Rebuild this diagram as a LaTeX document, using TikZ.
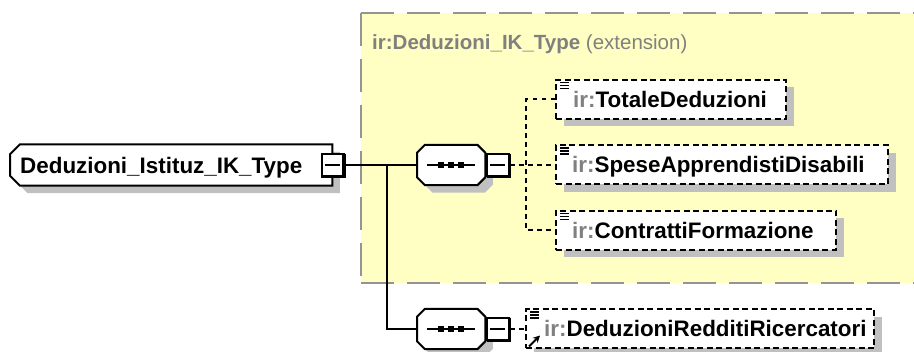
\documentclass[tikz,border=0pt]{standalone}
\usepackage{fontspec}
\setmainfont{Liberation Sans}
\usetikzlibrary{calc,shadows,arrows.meta}
\definecolor{yel}{HTML}{FFFFC4}
\definecolor{shd}{HTML}{C0C0C0}
\definecolor{pfx}{HTML}{808080}
\definecolor{bord}{HTML}{949494}
\tikzset{
  sh/.style={general shadow={fill=shd, shadow xshift=7.5pt, shadow yshift=-7.5pt}},
  outline/.style={draw=black, line width=2pt, fill=white},
  ybord/.style={draw=bord, line width=2.5pt, dash pattern=on 33pt off 13pt},
  elembox/.style={draw=black, line width=2pt, dash pattern=on 6pt off 3.5pt, fill=white, inner sep=0pt, minimum height=39pt, anchor=west, sh},
  elemtext/.style={anchor=base west, inner sep=0pt, font=\fontsize{22.4}{27}\selectfont\bfseries},
  lbltext/.style={anchor=base west, inner sep=0pt, text=pfx, font=\fontsize{20.5}{25}\selectfont},
  conn/.style={line width=2pt, draw=black},
  dconn/.style={line width=2pt, draw=black, dash pattern=on 4.5pt off 4.5pt},
  minusbox/.style={draw=black, line width=2pt, fill=white, inner sep=0pt, minimum width=22pt, minimum height=22pt},
  anchorbox/.style={anchor=west, inner sep=0pt},
}
\newcommand\minusdecor[1]{%
  \draw[line width=3.5pt] ($(#1.north east)+(-0.7,0.7)$) -- ($(#1.south east)+(-0.7,-0.7)$) -- ($(#1.south west)+(0.7,-0.7)$);
  \draw[line width=2pt] ($(#1.west)+(4,0)$) -- ($(#1.east)+(-5,0)$);}
\newcommand\docicon[1]{%
  \foreach \yy in {3.5,6.5,9.5} \draw[line width=1.6pt] ($(#1.north west)+(5,\yy)$) -- ++(9,0);}
\newcommand\seqdecor[1]{%
  \draw[outline, sh] ($(#1.north west)+(8,0)$) -- ($(#1.north east)+(-8,0)$) -- ($(#1.north east)+(0,8)$) -- ($(#1.south east)+(0,-8)$) -- ($(#1.south east)+(-8,0)$) -- ($(#1.south west)+(8,0)$) -- ($(#1.south west)+(0,-8)$) -- ($(#1.north west)+(0,8)$) -- cycle;
  \draw[line width=2pt] ($(#1.west)+(10,0)$) -- ($(#1.east)+(-10,0)$);
  \foreach \dx in {-10,0,10} \fill ($(#1.center)+(\dx-3,-3)$) rectangle +(6,6);}
\begin{document}
\begin{tikzpicture}[x=1pt,y=-1pt]
\useasboundingbox (0,0) rectangle (914,352);
\begin{scope}
  \clip (0,0) rectangle (914,352);
  \fill[yel] (361,13) rectangle (920,283);
  \draw[ybord] (361,13) -- (920,13);
  \draw[ybord] (361,13) -- (361,283);
  \draw[ybord] (361,283) -- (920,283);
\end{scope}
\node[lbltext] (lbl) at (372,50) {\textbf{ir:Deduzioni\_IK\_Type} (extension)};

% main element
\node[anchorbox, minimum width=322pt, minimum height=41pt] (main) at (10,165) {};
\draw[outline, sh] ($(main.north west)+(10,0)$) -- (main.north east) -- (main.south east) -- ($(main.south west)+(10,0)$) -- ($(main.south west)+(0,-10)$) -- ($(main.north west)+(0,10)$) -- cycle;
\node[elemtext] (mainlbl) at ($(main.west)+(10,8.5)$) {Deduzioni\_Istituz\_IK\_Type};
\node[minusbox] (mm) at (332.5,165) {};
\minusdecor{mm}

% sequences
\node[anchorbox, minimum width=68pt, minimum height=40pt] (seq1) at (417,165) {};
\seqdecor{seq1}
\node[minusbox] (sm1) at (498,165) {};
\minusdecor{sm1}
\node[anchorbox, minimum width=68pt, minimum height=40pt] (seq2) at (417,329) {};
\seqdecor{seq2}
\node[minusbox] (sm2) at (498,329) {};
\minusdecor{sm2}

% child elements
\node[elembox, minimum width=230pt] (tot) at (555,99.5) {};
\node[elemtext] (totl) at ($(tot.west)+(18,8)$) {\textcolor{pfx}{ir:}TotaleDeduzioni};
\docicon{tot}
\node[elembox, minimum width=332pt] (spe) at (555,165) {};
\node[elemtext] (spel) at ($(spe.west)+(17,8)$) {\textcolor{pfx}{ir:}SpeseApprendistiDisabili};
\docicon{spe}
\node[elembox, minimum width=280pt] (con) at (555,230.5) {};
\node[elemtext] (conl) at ($(con.west)+(17,8)$) {\textcolor{pfx}{ir:}ContrattiFormazione};
\docicon{con}
\node[elembox, minimum width=348pt] (ded) at (525,329) {};
\node[elemtext] (dedl) at ($(ded.west)+(19,8)$) {\textcolor{pfx}{ir:}DeduzioniRedditiRicercatori};
\docicon{ded}
\draw[line width=2pt, -{Stealth[length=7pt,width=7pt]}] ($(ded.south west)+(4,-3)$) -- ++(11,-11);

% connectors
\coordinate (br) at (387,165);
\coordinate (vj) at (526,165);
\draw[conn] (mm.east) -- (seq1.west);
\draw[conn] (br) |- (seq2.west);
\draw[dconn] (sm1.east) -- (spe.west);
\draw[dconn] (tot.west) -- (tot.west -| vj) -- (con.west -| vj) -- (con.west);
\draw[dconn] (sm2.east) -- (ded.west);
\end{tikzpicture}
\end{document}
